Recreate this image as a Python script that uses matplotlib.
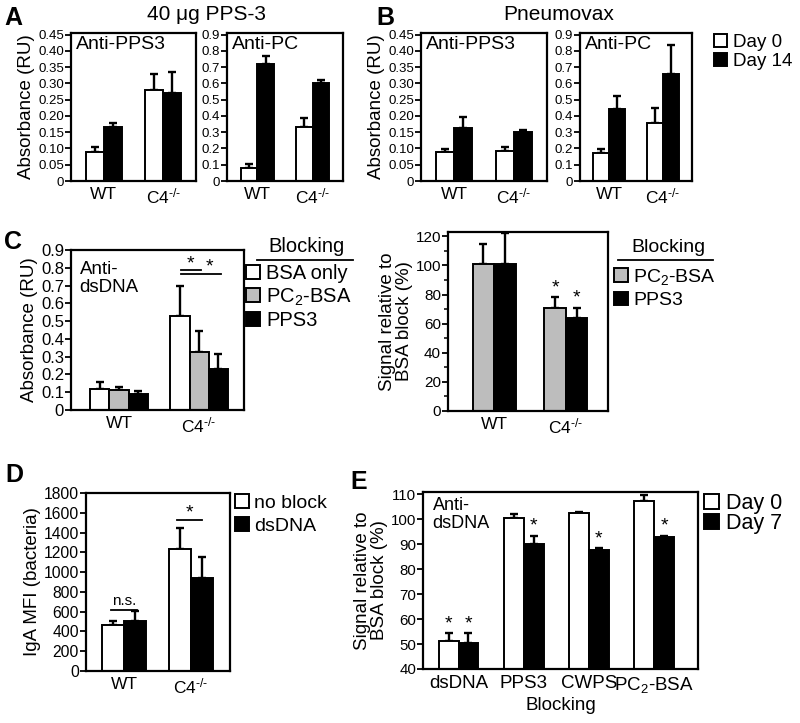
import numpy as np
import matplotlib.pyplot as plt
from matplotlib.patches import Patch
from matplotlib.lines import Line2D

plt.rcParams['font.family'] = ['Liberation Sans', 'DejaVu Sans']
plt.rcParams['mathtext.fontset'] = 'custom'
plt.rcParams['mathtext.rm'] = 'Liberation Sans'
plt.rcParams['mathtext.it'] = 'Liberation Sans:italic'

W, H = 800, 723

# ---------------- data ----------------
groups = ['WT', r'C4$^{\text{-/-}}$']

# A: 40 ug PPS-3 (Day 0 / Day 14)
a_pps3_d0 = [0.090, 0.280]
a_pps3_d0_err = [0.015, 0.050]
a_pps3_d14 = [0.165, 0.272]
a_pps3_d14_err = [0.012, 0.063]
a_pc_d0 = [0.080, 0.330]
a_pc_d0_err = [0.025, 0.055]
a_pc_d14 = [0.720, 0.600]
a_pc_d14_err = [0.050, 0.020]

# B: Pneumovax (Day 0 / Day 14)
b_pps3_d0 = [0.090, 0.093]
b_pps3_d0_err = [0.007, 0.013]
b_pps3_d14 = [0.163, 0.150]
b_pps3_d14_err = [0.035, 0.008]
b_pc_d0 = [0.170, 0.355]
b_pc_d0_err = [0.025, 0.095]
b_pc_d14 = [0.440, 0.660]
b_pc_d14_err = [0.080, 0.175]

# C left: anti-dsDNA absorbance by blocking
c_bsa = [0.120, 0.530]
c_bsa_err = [0.035, 0.170]
c_pc2 = [0.110, 0.325]
c_pc2_err = [0.022, 0.120]
c_pps3 = [0.090, 0.230]
c_pps3_err = [0.016, 0.085]

# C right: signal relative to BSA block (%)
cr_pc2 = [101, 71]
cr_pc2_err = [14, 7]
cr_pps3 = [101, 64]
cr_pps3_err = [21, 7]

# D: IgA MFI (bacteria)
d_noblock = [470, 1230]
d_noblock_err = [40, 220]
d_dsdna = [510, 940]
d_dsdna_err = [100, 210]

# E: signal relative to BSA block (%)
e_cats = ['dsDNA', 'PPS3', 'CWPS', 'PC$_2$-BSA']
e_day0 = [51.4, 100.6, 102.6, 107.3]
e_day0_err = [2.9, 1.6, 0.3, 2.6]
e_day7 = [50.3, 90.2, 87.7, 93.0]
e_day7_err = [4.0, 3.3, 0.8, 0.5]

WHITE, GREY, BLACK = 'white', '#bdbdbd', 'black'

fig = plt.figure(figsize=(W / 100, H / 100), dpi=100)


def px_axes(x0, y0, x1, y1):
    return fig.add_axes([x0 / W, 1 - y1 / H, (x1 - x0) / W, (y1 - y0) / H])


def fx(x):
    return x / W


def fy(y):
    return 1 - y / H


def style(ax, ylim, yticks, ylabels, xlim, xticks, xlabels, tick_fs=9.5, x_fs=12.5):
    ax.set_ylim(*ylim)
    ax.set_xlim(*xlim)
    ax.set_yticks(yticks)
    ax.set_yticklabels(ylabels, fontsize=tick_fs)
    ax.set_xticks(xticks)
    ax.set_xticklabels(xlabels, fontsize=x_fs)
    ax.tick_params(axis='y', direction='out', length=4, width=1.3, pad=1)
    ax.tick_params(axis='x', length=0, pad=4)
    for s in ax.spines.values():
        s.set_linewidth(1.6)


def bars(ax, pos, vals, errs, color, width):
    ax.bar(pos, vals, width, color=color, edgecolor='black', linewidth=1.4, zorder=2)
    ax.errorbar(pos, vals, yerr=[np.zeros(len(errs)), errs], fmt='none',
                ecolor='black', elinewidth=1.7, capsize=3, capthick=1.7, zorder=1)


def box_legend(labels, colors, x, y, fs=13, spacing=0.25):
    handles = [Patch(facecolor=c, edgecolor='black', linewidth=1.4) for c in colors]
    fig.legend(handles, labels, loc='upper left', bbox_to_anchor=(fx(x), fy(y)),
               frameon=False, handlelength=0.7, handleheight=0.7, handletextpad=0.3,
               labelspacing=spacing, borderaxespad=0, borderpad=0, fontsize=fs)


x2 = np.arange(len(groups))
abs_label = 'Absorbance (RU)'

# ---------------- panel A ----------------
t45 = np.arange(0, 0.451, 0.05)
t9 = np.arange(0, 0.91, 0.1)

ax = px_axes(71, 33, 196, 181)
bars(ax, x2 - 0.15, a_pps3_d0, a_pps3_d0_err, WHITE, 0.3)
bars(ax, x2 + 0.15, a_pps3_d14, a_pps3_d14_err, BLACK, 0.3)
style(ax, (0, 0.455), t45, ['0'] + ['%.2f' % v for v in t45[1:]], (-0.55, 1.55), x2, groups)
ax.set_ylabel(abs_label, fontsize=13.5, labelpad=2)
ax.text(0.04, 0.98, 'Anti-PPS3', transform=ax.transAxes, va='top', fontsize=14)

ax = px_axes(227, 33, 343, 181)
bars(ax, x2 - 0.15, a_pc_d0, a_pc_d0_err, WHITE, 0.3)
bars(ax, x2 + 0.15, a_pc_d14, a_pc_d14_err, BLACK, 0.3)
style(ax, (0, 0.91), t9, ['0'] + ['%.1f' % v for v in t9[1:]], (-0.55, 1.55), x2, groups)
ax.text(0.04, 0.98, 'Anti-PC', transform=ax.transAxes, va='top', fontsize=14)

# ---------------- panel B ----------------
ax = px_axes(421, 33, 547, 181)
bars(ax, x2 - 0.15, b_pps3_d0, b_pps3_d0_err, WHITE, 0.3)
bars(ax, x2 + 0.15, b_pps3_d14, b_pps3_d14_err, BLACK, 0.3)
style(ax, (0, 0.455), t45, ['0'] + ['%.2f' % v for v in t45[1:]], (-0.55, 1.55), x2, groups)
ax.set_ylabel(abs_label, fontsize=13.5, labelpad=2)
ax.text(0.04, 0.98, 'Anti-PPS3', transform=ax.transAxes, va='top', fontsize=14)

ax = px_axes(580, 33, 692, 181)
bars(ax, x2 - 0.15, b_pc_d0, b_pc_d0_err, WHITE, 0.3)
bars(ax, x2 + 0.15, b_pc_d14, b_pc_d14_err, BLACK, 0.3)
style(ax, (0, 0.91), t9, ['0'] + ['%.1f' % v for v in t9[1:]], (-0.55, 1.55), x2, groups)
ax.text(0.04, 0.98, 'Anti-PC', transform=ax.transAxes, va='top', fontsize=14)

box_legend(['Day 0', 'Day 14'], [WHITE, BLACK], 714, 34, fs=13.5, spacing=0.1)

fig.text(fx(207), fy(15), '40 \u03bcg PPS-3', ha='center', va='center', fontsize=15)
fig.text(fx(559), fy(15), 'Pneumovax', ha='center', va='center', fontsize=15)

# ---------------- panel C (left) ----------------
ax = px_axes(71, 250, 244, 410)
bars(ax, x2 - 0.24, c_bsa, c_bsa_err, WHITE, 0.24)
bars(ax, x2, c_pc2, c_pc2_err, GREY, 0.24)
bars(ax, x2 + 0.24, c_pps3, c_pps3_err, BLACK, 0.24)
style(ax, (0, 0.9), t9, ['0'] + ['%.1f' % v for v in t9[1:]], (-0.6, 1.56), x2, groups,
      tick_fs=12)
ax.set_ylabel(abs_label, fontsize=13.5, labelpad=2)
ax.text(0.05, 0.93, 'Anti-\ndsDNA', transform=ax.transAxes, va='top', fontsize=13.5,
        linespacing=1.05)
ax.plot([0.77, 1.02], [0.785, 0.785], color='black', lw=1.3)
ax.plot([0.77, 1.27], [0.765, 0.765], color='black', lw=1.3)
ax.text(0.89, 0.775, '*', ha='center', va='bottom', fontsize=14)
ax.text(1.13, 0.755, '*', ha='center', va='bottom', fontsize=14)

fig.text(fx(307), fy(247), 'Blocking', ha='center', va='center', fontsize=14.5)
fig.add_artist(Line2D([fx(257), fx(353)], [fy(260), fy(260)], color='black', lw=1.3))
box_legend(['BSA only', 'PC$_2$-BSA', 'PPS3'], [WHITE, GREY, BLACK], 246, 264, fs=14.5,
           spacing=0.17)

# ---------------- panel C (right) ----------------
ax = px_axes(448, 232, 608, 411)
bars(ax, x2 - 0.15, cr_pc2, cr_pc2_err, GREY, 0.3)
bars(ax, x2 + 0.15, cr_pps3, cr_pps3_err, BLACK, 0.3)
style(ax, (0, 123), np.arange(0, 121, 20), [str(v) for v in range(0, 121, 20)],
      (-0.645, 1.587), x2, groups, tick_fs=11)
ax.set_yticks(np.arange(10, 121, 20), minor=True)
ax.tick_params(axis='y', which='minor', length=3, width=1.1)
ax.set_ylabel('Signal relative to\nBSA block (%)', fontsize=13.5, labelpad=2, linespacing=1.0)
for p, v, e in zip(x2 - 0.15, cr_pc2, cr_pc2_err):
    if p > 0.5:
        ax.text(p, v + e + 1, '*', ha='center', va='bottom', fontsize=14)
for p, v, e in zip(x2 + 0.15, cr_pps3, cr_pps3_err):
    if p > 0.5:
        ax.text(p, v + e + 1, '*', ha='center', va='bottom', fontsize=14)

fig.text(fx(668), fy(248), 'Blocking', ha='center', va='center', fontsize=14)
fig.add_artist(Line2D([fx(618), fx(713)], [fy(260), fy(260)], color='black', lw=1.3))
box_legend(['PC$_2$-BSA', 'PPS3'], [GREY, BLACK], 614, 267, fs=14, spacing=0.25)

# ---------------- panel D ----------------
ax = px_axes(86, 493, 230, 671)
bars(ax, x2 - 0.165, d_noblock, d_noblock_err, WHITE, 0.33)
bars(ax, x2 + 0.165, d_dsdna, d_dsdna_err, BLACK, 0.33)
style(ax, (0, 1800), np.arange(0, 1801, 200), [str(v) for v in range(0, 1801, 200)],
      (-0.57, 1.59), x2, groups, tick_fs=11.3)
ax.set_ylabel('IgA MFI (bacteria)', fontsize=13.5, labelpad=2)
ax.plot([-0.19, 0.19], [617, 617], color='black', lw=1.3)
ax.text(0, 640, 'n.s.', ha='center', va='bottom', fontsize=11)
ax.plot([0.79, 1.17], [1527, 1527], color='black', lw=1.3)
ax.text(0.98, 1510, '*', ha='center', va='bottom', fontsize=14)
box_legend(['no block', 'dsDNA'], [WHITE, BLACK], 235, 494, fs=14, spacing=0.3)

# ---------------- panel E ----------------
x4 = np.arange(len(e_cats))
ax = px_axes(423, 492, 698, 669)
bars(ax, x4 - 0.153, e_day0, e_day0_err, WHITE, 0.306)
bars(ax, x4 + 0.153, e_day7, e_day7_err, BLACK, 0.306)
style(ax, (40, 111), np.arange(40, 111, 10), [str(v) for v in range(40, 111, 10)],
      (-0.545, 3.675), x4, e_cats, tick_fs=10.8, x_fs=13.5)
ax.set_ylabel('Signal relative to\nBSA block (%)', fontsize=13.5, labelpad=2, linespacing=1.0)
ax.set_xlabel('Blocking', fontsize=13.5, labelpad=2)
ax.text(0.035, 0.97, 'Anti-\ndsDNA', transform=ax.transAxes, va='top', fontsize=13,
        linespacing=1.05)
ax.text(x4[0] - 0.153, e_day0[0] + e_day0_err[0] + 0.3, '*', ha='center', va='bottom', fontsize=14)
for p, v, e in zip(x4 + 0.153, e_day7, e_day7_err):
    ax.text(p, v + e + 0.3, '*', ha='center', va='bottom', fontsize=14)
box_legend(['Day 0', 'Day 7'], [WHITE, BLACK], 704, 493, fs=15.5, spacing=-0.05)

# ---------------- panel letters ----------------
for letter, x, y in [('A', 4, 6), ('B', 376, 6), ('C', 4, 230), ('D', 5, 463), ('E', 350, 470)]:
    fig.text(fx(x), fy(y), letter, ha='left', va='top', fontsize=18, fontweight='bold')

fig.savefig('out.png', dpi=100)
